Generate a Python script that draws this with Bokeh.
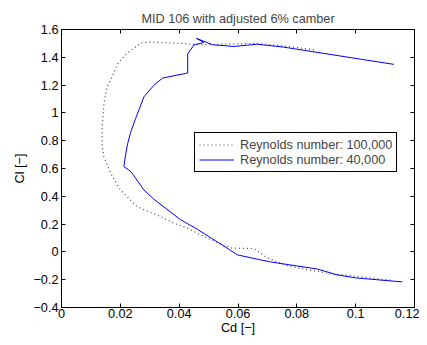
from bokeh.plotting import figure
from bokeh.models import Range1d, FixedTicker, LinearAxis, Legend, LegendItem
from bokeh.embed import file_html
from bokeh.resources import INLINE

# Re = 100,000 polar (dotted)
cd_100k = [0.1118, 0.1040, 0.0954, 0.0926, 0.0869, 0.0767, 0.0700, 0.0654, 0.0575,
           0.0563, 0.0495, 0.0427, 0.0382, 0.0337, 0.0257, 0.0200, 0.0167, 0.0144,
           0.0138, 0.0138, 0.0145, 0.0155, 0.0172, 0.0190, 0.0223, 0.0269, 0.0300,
           0.0405, 0.0484, 0.0586, 0.0665, 0.0767, 0.0858]
cl_100k = [-0.203, -0.185, -0.165, -0.163, -0.140, -0.100, -0.043, 0.024, 0.028,
           0.040, 0.100, 0.171, 0.207, 0.254, 0.326, 0.446, 0.566, 0.685,
           0.780, 0.900, 1.080, 1.187, 1.258, 1.350, 1.430, 1.502, 1.510,
           1.500, 1.490, 1.497, 1.500, 1.478, 1.455]

# Re = 40,000 polar (solid)
cd_40k = [0.1159, 0.1000, 0.0937, 0.0869, 0.0710, 0.0654, 0.0599, 0.0461, 0.0405,
          0.0314, 0.0280, 0.0240, 0.0229, 0.0212, 0.0218, 0.0225, 0.0235, 0.0252,
          0.0280, 0.0314, 0.0344, 0.0429, 0.0429, 0.0450, 0.0484, 0.0459, 0.0514,
          0.0586, 0.0665, 0.0756, 0.1130]
cl_40k = [-0.216, -0.187, -0.165, -0.123, -0.072, -0.047, -0.022, 0.164, 0.231,
          0.379, 0.446, 0.566, 0.590, 0.613, 0.700, 0.780, 0.860, 0.960,
          1.115, 1.199, 1.251, 1.287, 1.424, 1.488, 1.507, 1.536, 1.490,
          1.478, 1.494, 1.473, 1.349]

x_ticks = [0.0, 0.02, 0.04, 0.06, 0.08, 0.1, 0.12]
x_tick_labels = ["0", "0.02", "0.04", "0.06", "0.08", "0.1", "0.12"]
y_ticks = [-0.4, -0.2, 0.0, 0.2, 0.4, 0.6, 0.8, 1.0, 1.2, 1.4, 1.6]
y_tick_labels = ["\u22120.4", "\u22120.2", "0", "0.2", "0.4", "0.6", "0.8", "1", "1.2", "1.4", "1.6"]

title_text = "MID 106 with adjusted 6% camber"
label_100k = "Reynolds number: 100,000"
label_40k = "Reynolds number: 40,000"

FONT = "Liberation Sans"
FS = "12.7px"

p = figure(width=419, height=337, output_backend="svg", toolbar_location=None,
           x_range=Range1d(0, 0.12), y_range=Range1d(-0.4, 1.6),
           min_border_left=61, min_border_right=5, min_border_top=29, min_border_bottom=29,
           x_axis_label="Cd [\u2212]", y_axis_label="Cl [\u2212]")

p.title.text = title_text
p.title.align = "center"
p.title.text_font = FONT
p.title.text_font_size = FS
p.title.text_font_style = "normal"
p.title.standoff = 8
p.title.offset = 0

p.xgrid.visible = False
p.ygrid.visible = False
p.outline_line_color = "black"
p.outline_line_alpha = 1.0
p.outline_line_width = 1
p.background_fill_color = "white"
p.border_fill_color = "white"

r100 = p.line(cd_100k, cl_100k, line_color="#444444", line_width=1.2, line_dash="1 3")
r40 = p.line(cd_40k, cl_40k, line_color="#0000ff", line_width=1)

xt = dict(zip(x_ticks, x_tick_labels))
yt = dict(zip(y_ticks, y_tick_labels))

def style_axis(ax, ticks, overrides, show_labels=True):
    ax.ticker = FixedTicker(ticks=ticks)
    ax.major_label_overrides = overrides
    ax.major_tick_in = 4
    ax.major_tick_out = 0
    ax.minor_tick_in = 0
    ax.minor_tick_out = 0
    ax.major_tick_line_color = "black"
    ax.axis_line_color = "black"
    ax.major_label_text_font = FONT
    ax.axis_label_text_font = FONT
    ax.axis_label_text_font_size = FS
    ax.axis_label_text_font_style = "normal"
    ax.axis_label_text_color = "black"
    if show_labels:
        ax.major_label_text_color = "black"
        ax.major_label_text_font_size = FS
        ax.major_label_standoff = 3
    else:
        ax.major_label_text_color = None
        ax.major_label_text_font_size = "1px"
        ax.major_label_standoff = 0

style_axis(p.xaxis[0], x_ticks, xt)
p.xaxis[0].major_label_standoff = 1
p.xaxis[0].axis_label_standoff = 0
style_axis(p.yaxis[0], y_ticks, yt)
p.yaxis[0].axis_label_standoff = 3

top_ax = LinearAxis()
style_axis(top_ax, x_ticks, xt, show_labels=False)
p.add_layout(top_ax, "above")
right_ax = LinearAxis()
style_axis(right_ax, y_ticks, yt, show_labels=False)
p.add_layout(right_ax, "right")

legend = Legend(items=[LegendItem(label=label_100k, renderers=[r100]),
                       LegendItem(label=label_40k, renderers=[r40])],
                location=(133, 135))
legend.border_line_color = "black"
legend.border_line_width = 1
legend.border_line_alpha = 1
legend.background_fill_color = "white"
legend.background_fill_alpha = 1
legend.padding = 4
legend.spacing = 0
legend.margin = 0
legend.label_height = 15
legend.glyph_height = 15
legend.glyph_width = 35
legend.label_standoff = 6
legend.label_text_font = FONT
legend.label_text_font_size = FS
p.add_layout(legend)

open("out.html", "w").write(file_html(p, INLINE))
